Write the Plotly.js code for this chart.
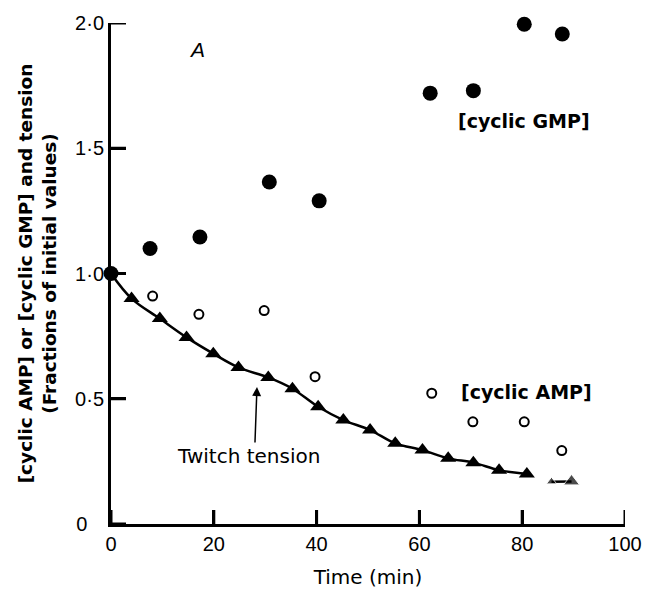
<!DOCTYPE html>
<html>
<head>
<meta charset="utf-8">
<script src="https://cdn.plot.ly/plotly-3.0.1.min.js"></script>
<style>html,body{margin:0;padding:0;background:#fff;}</style>
</head>
<body>
<div id="chart" style="width:646px;height:590px;"></div>
<script>
// Data
const gmpTime = [0, 7.6, 17.3, 30.8, 40.5, 62.1, 70.5, 80.4, 87.8];
const gmpValue = [1.0, 1.10, 1.146, 1.365, 1.29, 1.72, 1.73, 1.995, 1.956];

const ampTime = [0, 8.1, 17.1, 29.8, 39.7, 62.4, 70.4, 80.4, 87.7];
const ampValue = [1.0, 0.91, 0.837, 0.852, 0.588, 0.522, 0.408, 0.408, 0.293];

const tensionTime = [0, 4, 9.5, 14.7, 19.9, 24.8, 30.6, 35.3, 40.3, 45.2, 50.4, 55.3, 60.6, 65.6, 70.5, 75.5, 80.9];
const tensionValue = [1.0, 0.90, 0.82, 0.745, 0.68, 0.625, 0.585, 0.54, 0.468, 0.415, 0.375, 0.322, 0.295, 0.262, 0.245, 0.215, 0.20];

const tensionTailTime = [85.7, 89.6];
const tensionTailValue = [0.169, 0.17];

const xTicks = [0, 20, 40, 60, 80, 100];
const yTicks = [0, 0.5, 1.0, 1.5, 2.0];
const yTickText = ['0\u00a0\u00a0\u00a0', '0\u00b75', '1\u00b70', '1\u00b75', '2\u00b70'];

// Layout geometry
const W = 646, H = 590;
const M = {l: 111, r: 21, t: 23, b: 66};
const xRange = [0, 100], yRange = [0, 2];
const plotW = W - M.l - M.r, plotH = H - M.t - M.b;
// inward tick lengths (px) converted to data units
const xTickLen = 14 * (yRange[1] - yRange[0]) / plotH;
const yTickLen = 15 * (xRange[1] - xRange[0]) / plotW;

const tickX = [], tickY = [];
xTicks.forEach(v => { tickX.push(v, v, null); tickY.push(yRange[0], yRange[0] + xTickLen, null); });
yTicks.forEach(v => { tickX.push(xRange[0], xRange[0] + yTickLen, null); tickY.push(v, v, null); });

const traces = [
  {
    x: tickX, y: tickY, mode: 'lines', type: 'scatter', cliponaxis: false, connectgaps: false,
    line: {color: '#000', width: 3, simplify: false}, showlegend: false, hoverinfo: 'skip'
  },
  {
    x: ampTime, y: ampValue, mode: 'markers', type: 'scatter', cliponaxis: false,
    marker: {symbol: 'circle-open', size: 9, color: '#000', line: {width: 2, color: '#000'}},
    showlegend: false, hoverinfo: 'skip'
  },
  {
    x: tensionTime, y: tensionValue, mode: 'lines', type: 'scatter', cliponaxis: false,
    line: {color: '#000', width: 2.5, shape: 'spline', smoothing: 1},
    showlegend: false, hoverinfo: 'skip'
  },
  {
    x: tensionTime.slice(1), y: tensionValue.slice(1), mode: 'markers', type: 'scatter', cliponaxis: false,
    marker: {symbol: 'triangle-up', size: 14, color: '#000'},
    showlegend: false, hoverinfo: 'skip'
  },
  {
    x: tensionTailTime, y: tensionTailValue, mode: 'lines+markers', type: 'scatter', cliponaxis: false,
    line: {color: '#000', width: 2.5},
    marker: {symbol: 'triangle-up', size: [9, 14], color: '#000'},
    showlegend: false, hoverinfo: 'skip'
  },
  {
    x: gmpTime, y: gmpValue, mode: 'markers', type: 'scatter', cliponaxis: false,
    marker: {symbol: 'circle', size: 15, color: '#000'},
    showlegend: false, hoverinfo: 'skip'
  }
];

const layout = {
  width: W, height: H,
  margin: M,
  paper_bgcolor: '#fff', plot_bgcolor: '#fff',
  showlegend: false,
  xaxis: {
    range: xRange, tickvals: xTicks, ticktext: xTicks.map(String),
    ticks: 'inside', ticklen: 14, tickwidth: 3, tickcolor: '#000',
    showline: true, linewidth: 3, linecolor: '#000',
    showgrid: false, zeroline: false, fixedrange: true,
    tickfont: {family: 'Liberation Sans, Arial, sans-serif', size: 20, color: '#000'},
    title: {text: 'Time (min)', font: {family: 'DejaVu Sans, sans-serif', size: 20, color: '#000'}, standoff: 16}
  },
  yaxis: {
    range: yRange, tickvals: yTicks, ticktext: yTickText,
    ticks: 'inside', ticklen: 15, tickwidth: 3, tickcolor: '#000',
    showline: true, linewidth: 3, linecolor: '#000',
    showgrid: false, zeroline: false, fixedrange: true,
    tickfont: {family: 'Liberation Sans, Arial, sans-serif', size: 20, color: '#000'},
    title: {text: '[cyclic AMP] or [cyclic GMP] and tension<br>(Fractions of initial values)',
            font: {family: 'DejaVu Sans, sans-serif', size: 18.5, weight: 'bold', color: '#000'}, standoff: 14}
  },
  annotations: [
    {x: 16.7, y: 1.896, xref: 'x', yref: 'y', text: 'A', showarrow: false,
     font: {family: 'Liberation Sans, Arial, sans-serif', size: 21, style: 'italic', color: '#000'}},
    {x: 80.4, y: 1.61, xref: 'x', yref: 'y', text: '[cyclic GMP]', showarrow: false,
     font: {family: 'DejaVu Sans, sans-serif', size: 19, weight: 'bold', color: '#000'}},
    {x: 80.9, y: 0.528, xref: 'x', yref: 'y', text: '[cyclic AMP]', showarrow: false,
     font: {family: 'DejaVu Sans, sans-serif', size: 19, weight: 'bold', color: '#000'}},
    {x: 26.75, y: 0.27, xref: 'x', yref: 'y', text: 'Twitch tension', showarrow: false,
     font: {family: 'DejaVu Sans, sans-serif', size: 20, color: '#000'}},
    {x: 28.4, y: 0.547, xref: 'x', yref: 'y', ax: 28.0, ay: 0.319, axref: 'x', ayref: 'y',
     text: '', showarrow: true, arrowhead: 2, arrowsize: 1.2, arrowwidth: 1.5, arrowcolor: '#000'}
  ]
};

Plotly.newPlot('chart', traces, layout, {displayModeBar: false, staticPlot: true});
</script>
</body>
</html>
